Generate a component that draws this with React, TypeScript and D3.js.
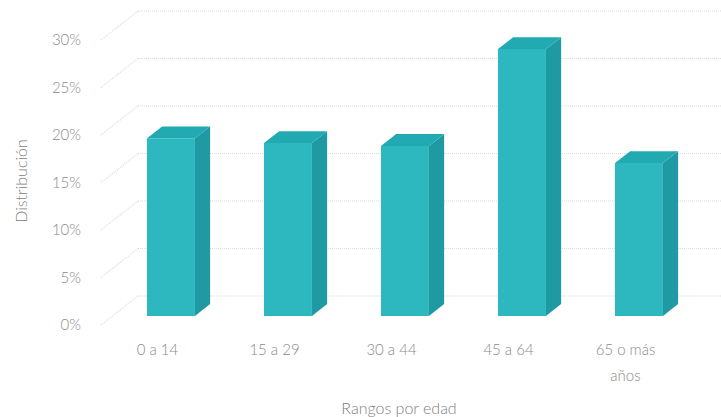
import React from "react";
import * as d3 from "d3";

const categories: string[][] = [["0 a 14"], ["15 a 29"], ["30 a 44"], ["45 a 64"], ["65 o más", "años"]];
const values: number[] = [18.7, 18.2, 17.9, 28.1, 16.1];
const yTicks: number[] = [0, 5, 10, 15, 20, 25, 30];
const yTitle = "Distribución";
const xTitle = "Rangos por edad";

const W = 721;
const H = 417;
const DEPTH_X = 37;
const DEPTH_Y = -29;
const D0 = 0.31;
const D1 = 0.72;
const FONT = "Lato, 'Open Sans', sans-serif";

export default function App() {
  const keys = categories.map((c) => c.join(" "));
  const x = d3.scaleBand<string>().domain(keys).range([99, 684]).paddingInner(0).paddingOuter(0);
  const y = d3.scaleLinear().domain([0, 30]).range([325, 40]);
  const bw = x.bandwidth();
  const barW = bw * 0.41;
  const proj = (px: number, py: number, d: number): [number, number] => [px + d * DEPTH_X, py + d * DEPTH_Y];
  const pts = (arr: [number, number][]) => arr.map((p) => p.join(",")).join(" ");
  const xLeft = 101;
  const xRight = x.range()[1];

  return (
    <svg width={W} height={H} style={{ position: "absolute", left: 0, top: 0, background: "#fff" }}>
      {/* gridlines: side wall + back wall */}
      {yTicks.map((t) => {
        const [sx, sy] = proj(xLeft, y(t), 0);
        const [bx, by] = proj(xLeft, y(t), 1);
        const [ex, ey] = proj(xRight, y(t), 1);
        return (
          <g key={t} stroke="#dcdcdc" strokeWidth={1.2} strokeDasharray="1,1" fill="none">
            <line x1={sx} y1={sy} x2={bx} y2={by} />
            <line x1={bx} y1={by} x2={ex + 10} y2={ey} />
          </g>
        );
      })}
      {/* bars */}
      {values.map((v, i) => {
        const cx = (x(keys[i]) as number) + bw / 2 + 2;
        const l = cx - barW / 2;
        const r = cx + barW / 2;
        const top = y(v);
        const base = y(0);
        const flt = proj(l, top, D0);
        const frt = proj(r, top, D0);
        const frb = proj(r, base, D0);
        const flb = proj(l, base, D0);
        const blt = proj(l, top, D1);
        const brt = proj(r, top, D1);
        const brb = proj(r, base, D1);
        return (
          <g key={i}>
            <polygon points={pts([frt, brt, brb, frb])} fill="#1f9aa3" />
            <polygon points={pts([flt, frt, brt, blt])} fill="#22aab2" />
            <polygon points={pts([flt, frt, frb, flb])} fill="#2db8c0" />
          </g>
        );
      })}
      {/* y tick labels */}
      {yTicks.map((t) => (
        <text key={t} x={81} y={y(t)} dy="0.35em" textAnchor="end" fontFamily={FONT} fontWeight={300} fontSize={15} fill="#8a8a8a">
          {t}%
        </text>
      ))}
      {/* category labels */}
      {categories.map((lines, i) => (
        <text key={i} x={(x(keys[i]) as number) + bw / 2} y={350} textAnchor="middle" fontFamily={FONT} fontWeight={300} fontSize={15} fill="#8a8a8a">
          {lines.map((ln, j) => (
            <tspan key={j} x={(x(keys[i]) as number) + bw / 2} dy={j === 0 ? "0.35em" : 26}>
              {ln}
            </tspan>
          ))}
        </text>
      ))}
      <text transform="translate(21,181) rotate(-90)" textAnchor="middle" dy="0.35em" fontFamily={FONT} fontWeight={300} fontSize={16} fill="#808080">
        {yTitle}
      </text>
      <text x={399} y={408} dy="0.35em" textAnchor="middle" fontFamily={FONT} fontWeight={300} fontSize={16} fill="#808080">
        {xTitle}
      </text>
    </svg>
  );
}
